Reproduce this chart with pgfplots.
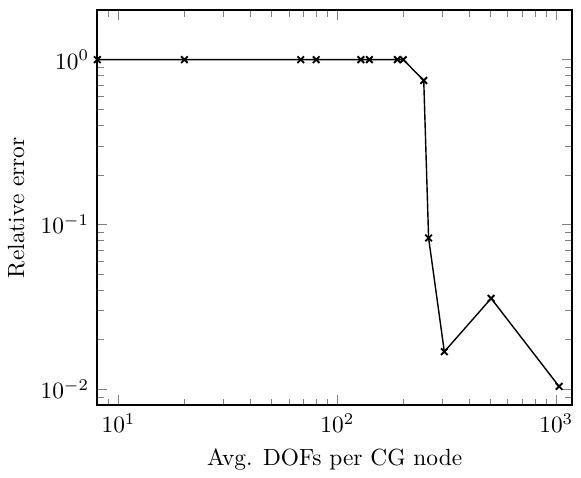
\documentclass[border=0pt]{standalone}
\usepackage{pgfplots}
\pgfplotsset{compat=1.18}
\begin{document}
\begin{tikzpicture}
  \begin{loglogaxis}[
    scale only axis,
    width=203pt, height=169pt,
    xmin=8, xmax=1180,
    ymin=0.008, ymax=2,
    axis line style={line width=0.8pt},
    xlabel={Avg. DOFs per CG node},
    ylabel={Relative error},
  ]
    \addplot[black, semithick, mark=x, mark options={solid, thick}] coordinates {
      (8, 1.0) (20, 1.0) (68, 1.0) (80, 1.0)
      (128, 1.0) (140, 1.0) (188, 1.0) (200, 1.0)
      (248, 0.748) (261, 0.0828) (308, 0.0169)
      (504, 0.0356) (1030, 0.0104)
    };
  \end{loglogaxis}
  % some blank room above the frame, as in the reference
  \path (current axis.north) ++(0,4.3pt);
\end{tikzpicture}
\end{document}
